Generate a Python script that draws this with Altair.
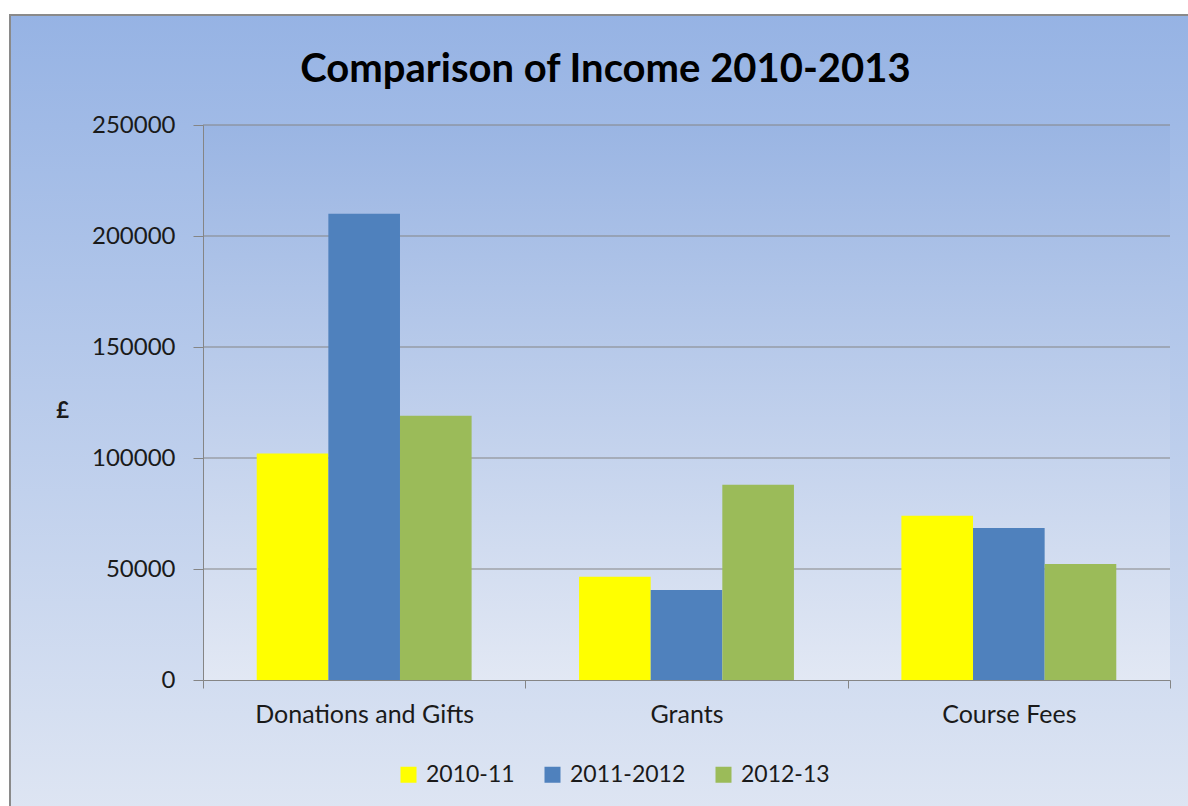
import altair as alt
import pandas as pd

categories = ["Donations and Gifts", "Grants", "Course Fees"]
years = ["2010-11", "2011-2012", "2012-13"]
values_2010_11 = [102000, 46500, 74000]
values_2011_12 = [210000, 40500, 68500]
values_2012_13 = [119000, 88000, 52250]
y_ticks = [0, 50000, 100000, 150000, 200000, 250000]
colors = ["#ffff00", "#4f81bd", "#9bbb59"]

rows = []
for yr, vals in zip(years, [values_2010_11, values_2011_12, values_2012_13]):
    for c, v in zip(categories, vals):
        rows.append({"Category": c, "Year": yr, "Value": v})
df = pd.DataFrame(rows)
grid_df = pd.DataFrame({"Value": y_ticks[1:]})

FONT = "Lato"
GRAY = "#858585"
TXT = "#1a1a1a"

outer_grad = alt.LinearGradient(
    gradient="linear", x1=0, x2=0, y1=0, y2=1,
    stops=[alt.GradientStop(color="#96b3e4", offset=0),
           alt.GradientStop(color="#dfe6f3", offset=1)],
)
plot_grad = alt.LinearGradient(
    gradient="linear", x1=0, x2=0, y1=0, y2=1,
    stops=[alt.GradientStop(color="#9ab5e3", offset=0),
           alt.GradientStop(color="#e2e8f4", offset=1)],
)

W, H = 967, 555

y_axis = alt.Axis(
    values=y_ticks, format="d", grid=False, zindex=2,
    labelFont=FONT, labelFontSize=24, labelColor=TXT, labelPadding=18,
    tickSize=10, tickColor=GRAY, domainColor=GRAY,
    title="£", titleAngle=0, titleX=-141, titleY=285, titleAlign="center",
    titleBaseline="middle", titleFont=FONT, titleFontSize=22,
    titleFontWeight="bold", titleColor=TXT,
)
y_scale = alt.Scale(domain=[0, 250000], nice=False)

bg = alt.Chart(alt.Data(values=[{}])).mark_rect(
    fill=outer_grad, stroke="#8a8a8a", strokeWidth=2
).encode(
    x=alt.value(-193), x2=alt.value(1010), y=alt.value(-110), y2=alt.value(700)
)

plot_bg = alt.Chart(alt.Data(values=[{}])).mark_rect(fill=plot_grad).encode(
    x=alt.value(0), x2=alt.value(W), y=alt.value(0), y2=alt.value(H)
)

grid = alt.Chart(grid_df).mark_rule(color=GRAY, strokeWidth=1).encode(
    y=alt.Y("Value:Q", scale=y_scale, axis=y_axis)
)

bars = alt.Chart(df).mark_bar().encode(
    x=alt.X(
        "Category:N", sort=categories, title=None,
        scale=alt.Scale(paddingInner=0, paddingOuter=0),
        axis=alt.Axis(
            labelAngle=0, labelFont=FONT, labelFontSize=25, labelColor=TXT,
            labelLimit=400, tickBand="extent", tickSize=8, tickColor=GRAY,
            domainColor=GRAY, labelPadding=14, grid=False, zindex=2,
        ),
    ),
    xOffset=alt.XOffset("Year:N", sort=years,
                        scale=alt.Scale(paddingInner=0, paddingOuter=0.75)),
    y=alt.Y("Value:Q", scale=y_scale, axis=y_axis),
    color=alt.Color(
        "Year:N", sort=years,
        scale=alt.Scale(domain=years, range=colors),
        legend=alt.Legend(
            orient="none", legendX=194, legendY=638, direction="horizontal",
            title=None, symbolType="square", symbolSize=256, symbolStrokeWidth=0,
            labelFont=FONT, labelFontSize=23, labelColor=TXT,
            labelOffset=6, columnPadding=26, zindex=2,
        ),
    ),
)

chart = alt.layer(bg, plot_bg, grid, bars).properties(
    width=W, height=H,
    autosize=alt.AutoSizeParams(type="none"),
    padding={"left": 203, "top": 125, "right": 18, "bottom": 126},
    background="white",
    title=alt.TitleParams(
        "Comparison of Income 2010-2013", font=FONT, fontSize=40,
        fontWeight="bold", color="#000000", anchor="middle", frame="group",
        dx=-81, offset=-76, zindex=2,
    ),
).configure_view(stroke=None)

chart.save("out.html", embed_options={"renderer": "svg", "actions": False})
